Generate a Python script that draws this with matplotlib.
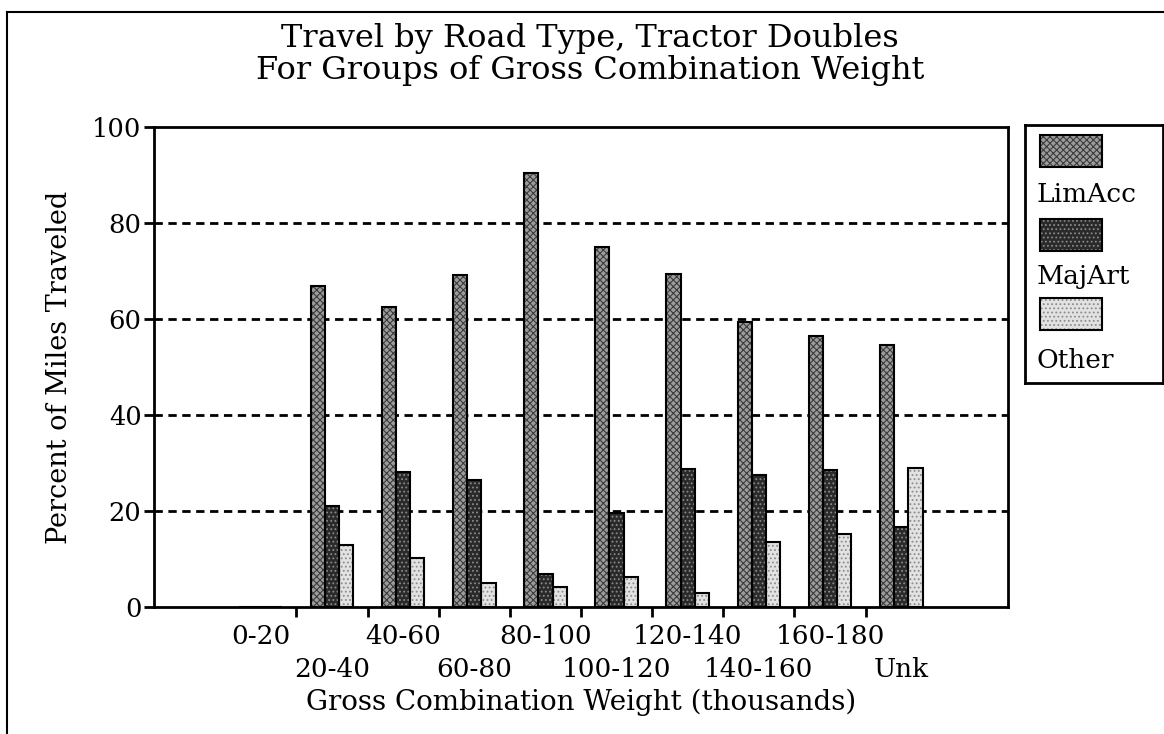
import matplotlib
matplotlib.use("Agg")
import matplotlib.pyplot as plt
import numpy as np
from matplotlib.patches import Rectangle
from matplotlib.lines import Line2D

categories = ["0-20", "20-40", "40-60", "60-80", "80-100", "100-120",
              "120-140", "140-160", "160-180", "Unk"]
lim_acc = [0, 66.8, 62.4, 69.2, 90.5, 75.0, 69.3, 59.4, 56.5, 54.6]
maj_art = [0, 21.0, 28.2, 26.5, 6.9, 19.6, 28.7, 27.4, 28.5, 16.6]
other = [0, 13.0, 10.3, 5.1, 4.1, 6.3, 3.0, 13.5, 15.2, 29.0]
series_names = ["LimAcc", "MajArt", "Other"]
yticks = [0, 20, 40, 60, 80, 100]

plt.rcParams['font.family'] = ['DejaVu Serif']
plt.rcParams['hatch.linewidth'] = 0.8

fig = plt.figure(figsize=(11.64, 7.34), dpi=100)
ax = fig.add_axes([154/1164, 1-607/734, (1008-154)/1164, (607-127)/734])

x = np.arange(len(categories))
w = 0.2
styles = [
    dict(face="#9c9c9c", hatch="xxxxx", hc="#3c3c3c"),
    dict(face="#2a2a2a", hatch="....", hc="#8a8a8a"),
    dict(face="#e2e2e2", hatch="....", hc="#8c8c8c"),
]
data = [lim_acc, maj_art, other]
for i, (vals, st) in enumerate(zip(data, styles)):
    pos = x + (i - 1) * w
    ax.bar(pos, vals, width=w, color=st["face"], edgecolor="none", zorder=3)
    ax.bar(pos, vals, width=w, color="none", edgecolor=st["hc"], hatch=st["hatch"],
           linewidth=0, zorder=3.5)
    ax.bar(pos, vals, width=w, color="none", edgecolor="black", linewidth=1.5, zorder=4)

ax.set_xlim(-1.5, 10.5)
ax.set_ylim(0, 100)
ax.set_yticks(yticks)
ax.set_yticklabels([str(t) for t in yticks], fontsize=18.5)
for t in yticks[1:-1]:
    ax.axhline(t, color="black", linestyle=(0, (3, 2)), linewidth=2, zorder=1)

# boundary tick marks
ax.set_xticks(np.arange(len(categories) - 1) + 0.5)
ax.set_xticklabels([])
ax.tick_params(axis="x", which="major", direction="out", length=7, width=2)
# first row labels (even categories)
even = x[::2]
ax.set_xticks(even, minor=True)
ax.set_xticklabels([categories[k] for k in even], minor=True, fontsize=19)
ax.tick_params(axis="x", which="minor", length=0, pad=12)
# second row labels (odd categories)
odd = x[1::2]
sec = ax.secondary_xaxis("bottom")
sec.set_xticks(odd)
sec.set_xticklabels([categories[k] for k in odd], fontsize=19)
sec.tick_params(axis="x", length=0, pad=36)
sec.spines["bottom"].set_visible(False)

ax.tick_params(axis="y", direction="out", length=7, width=2, pad=2)
for s in ax.spines.values():
    s.set_linewidth(2)

ax.set_xlabel("Gross Combination Weight (thousands)", fontsize=20)
ax.xaxis.set_label_coords(0.5, (607-689)/480)
ax.set_ylabel("Percent of Miles Traveled", fontsize=19.5, labelpad=14)

fig.text(0.507, 1-38/734, "Travel by Road Type, Tractor Doubles", ha="center", va="center", fontsize=23)
fig.text(0.507, 1-70/734, "For Groups of Gross Combination Weight", ha="center", va="center", fontsize=23)

# legend box
lax = fig.add_axes([1025/1164, 1-383/734, 138/1164, 258/734])
lax.set_xlim(0, 138)
lax.set_ylim(258, 0)
lax.set_xticks([])
lax.set_yticks([])
for s in lax.spines.values():
    s.set_linewidth(2)
patch_tops = [10, 94, 173]
text_y = [70, 152, 235]
for name, st, pt, ty in zip(series_names, styles, patch_tops, text_y):
    lax.add_patch(Rectangle((15, pt), 62, 32, facecolor=st["face"], edgecolor="none"))
    lax.add_patch(Rectangle((15, pt), 62, 32, facecolor="none", edgecolor=st["hc"],
                            hatch=st["hatch"], linewidth=0))
    lax.add_patch(Rectangle((15, pt), 62, 32, facecolor="none", edgecolor="black", linewidth=1.5))
    lax.text(12, ty, name, fontsize=19, va="center", ha="left")

# outer frame (left and top)
fig.add_artist(Line2D([7/1164, 7/1164], [0, 1-12/734], color="black", linewidth=1.5))
fig.add_artist(Line2D([7/1164, 1], [1-12/734, 1-12/734], color="black", linewidth=1.5))

fig.savefig("out.png", dpi=100)
